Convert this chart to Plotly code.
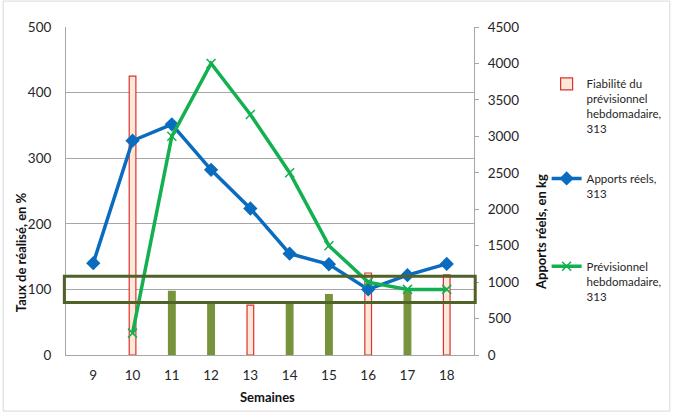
import plotly.graph_objects as go

weeks = ["9", "10", "11", "12", "13", "14", "15", "16", "17", "18"]
fiabilite = [None, 425, 97, 80, 76, 80, 92, 125, 97, 122]
apports = [1260, 2940, 3165, 2540, 2010, 1390, 1245, 900, 1095, 1250]
previsionnel = [None, 300, 3000, 4000, 3300, 2500, 1500, 1000, 900, 900]

red_weeks = {"10", "13", "16", "18"}
bar_fill = ["#FDE9D9" if w in red_weeks else "#77933C" for w in weeks]
bar_line = ["#E0302F" if w in red_weeks else "#77933C" for w in weeks]

FONT = "Lato"
TXT = "#262626"

fig = go.Figure()
fig.add_trace(go.Bar(
    x=weeks, y=fiabilite, name="Fiabilité du<br>prévisionnel<br>hebdomadaire,<br>313",
    marker=dict(color=bar_fill, line=dict(color=bar_line, width=1.2)),
    width=0.17, yaxis="y", showlegend=False))
# legend entry for the bar series
fig.add_trace(go.Bar(
    x=[weeks[0]], y=[None], name="Fiabilité du<br>prévisionnel<br>hebdomadaire,<br>313",
    marker=dict(color="#FDE9D9", line=dict(color="#E0302F", width=1.2)),
    yaxis="y", legend="legend", showlegend=True))
fig.add_trace(go.Scatter(
    x=weeks, y=apports, name="Apports réels,<br>313", yaxis="y2",
    mode="lines+markers", line=dict(color="#0A6CBF", width=3.5),
    marker=dict(symbol="diamond", size=11, color="#0A6CBF"), legend="legend2"))
fig.add_trace(go.Scatter(
    x=weeks, y=previsionnel, name="Prévisionnel<br>hebdomadaire,<br>313", yaxis="y2",
    mode="lines+markers", line=dict(color="#12B050", width=3.5),
    marker=dict(symbol="x-thin-open", size=9, line=dict(color="#12B050", width=1.5)),
    legend="legend3"))

legend_common = dict(font=dict(family=FONT, size=11.5, color=TXT), bgcolor="rgba(0,0,0,0)",
                     valign="top", itemwidth=30, xanchor="left", yanchor="top")

title_font = dict(family=FONT, size=13, color="#111")

fig.update_layout(
    width=674, height=414,
    margin=dict(l=66, r=200, t=27, b=59, autoexpand=False),
    paper_bgcolor="white", plot_bgcolor="white",
    font=dict(family=FONT, size=13.5, color=TXT),
    barmode="overlay",
    xaxis=dict(type="category", showline=True, linecolor="#A6A6A6", linewidth=1,
               showgrid=False, ticks="", ticklabelstandoff=8, automargin=False),
    yaxis=dict(range=[0, 500], dtick=100, showline=True, linecolor="#A6A6A6", linewidth=1,
               showgrid=True, gridcolor="#A6A6A6", gridwidth=1, ticks="",
               ticklabelstandoff=11, zeroline=False, automargin=False),
    yaxis2=dict(range=[0, 4500], dtick=500, overlaying="y", side="right", showline=True,
                linecolor="#A6A6A6", linewidth=1, showgrid=False, ticks="outside", ticklen=4,
                tickcolor="#A6A6A6", ticklabelstandoff=6, zeroline=False, automargin=False),
    legend=dict(x=1.178, y=0.869, **legend_common),
    legend2=dict(x=1.178, y=0.581, **legend_common),
    legend3=dict(x=1.178, y=0.313, **legend_common),
    annotations=[
        dict(text="<b>Semaines</b>", xref="paper", yref="paper", x=0.495, y=-0.128,
             xanchor="center", yanchor="middle", showarrow=False, font=title_font),
        dict(text="<b>Taux de réalisé, en %</b>", xref="paper", yref="paper", x=-0.110, y=0.314,
             xanchor="center", yanchor="middle", textangle=-90, showarrow=False, font=title_font),
        dict(text="<b>Apports réels, en kg</b>", xref="paper", yref="paper", x=1.164, y=0.375,
             xanchor="center", yanchor="middle", textangle=-90, showarrow=False, font=title_font),
    ],
    shapes=[
        dict(type="rect", xref="paper", yref="paper", x0=-0.154, x1=1.48, y0=-0.171, y1=1.079,
             line=dict(color="#D9D9D9", width=1), layer="below"),
        dict(type="rect", xref="paper", yref="y", x0=-0.004, x1=1.003, y0=80, y1=120,
             line=dict(color="#4F6228", width=3), layer="above"),
    ],
)

fig.write_html("out.html", post_script="document.body.style.margin='0';",
               config={"displayModeBar": False})
